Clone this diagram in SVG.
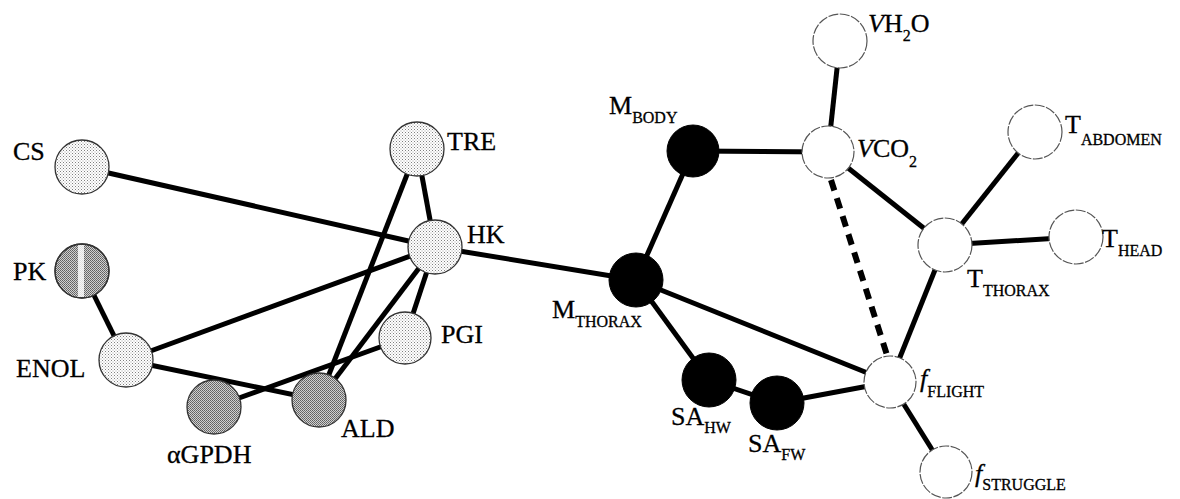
<svg xmlns="http://www.w3.org/2000/svg" width="1180" height="499" viewBox="0 0 1180 499">
<defs>
<pattern id="htL" width="3" height="3" patternUnits="userSpaceOnUse"><rect width="3" height="3" fill="#ffffff"/><rect width="1" height="1" fill="#808080"/><rect x="1.5" y="1.5" width="1" height="1" fill="#a0a0a0"/></pattern>
<pattern id="htD" width="2" height="2" patternUnits="userSpaceOnUse"><rect width="2" height="2" fill="#d0d0d0"/><rect width="1" height="1" fill="#606060"/><rect x="1" y="1" width="1" height="1" fill="#707070"/></pattern>
<style>
.e{stroke:#000;stroke-width:5;fill:none;stroke-linecap:butt}
.d{stroke:#000;stroke-width:6;fill:none;stroke-dasharray:11 8}
.lt{fill:url(#htL);stroke:#333;stroke-width:1.3}
.dk{fill:url(#htD);stroke:#333;stroke-width:1.3}
.bk{fill:#000;stroke:#000;stroke-width:1}
.wh{fill:#fff;stroke:#555;stroke-width:1.2;stroke-dasharray:10 1.5}
text{font-family:"Liberation Serif","Times New Roman",serif;font-size:26px;fill:#000;stroke:#000;stroke-width:0.3}
.s{font-size:16px}
.i{font-style:italic}
</style>
</defs>
<g id="connectors">
<line class="e" x1="82" y1="167" x2="435" y2="247"/>
<line class="e" x1="82" y1="271" x2="126" y2="360"/>
<line class="e" x1="126" y1="360" x2="435" y2="247"/>
<line class="e" x1="126" y1="360" x2="319" y2="400"/>
<line class="e" x1="214" y1="407" x2="405" y2="338"/>
<line class="e" x1="417" y1="149" x2="435" y2="247"/>
<line class="e" x1="417" y1="149" x2="319" y2="400"/>
<line class="e" x1="435" y1="247" x2="319" y2="400"/>
<line class="e" x1="435" y1="247" x2="405" y2="338"/>
<line class="e" x1="435" y1="247" x2="636" y2="280"/>
<line class="e" x1="636" y1="280" x2="693" y2="151"/>
<line class="e" x1="693" y1="151" x2="828" y2="152"/>
<line class="e" x1="636" y1="280" x2="709" y2="380"/>
<line class="e" x1="636" y1="280" x2="890" y2="382"/>
<line class="e" x1="709" y1="380" x2="777" y2="403"/>
<line class="e" x1="777" y1="403" x2="890" y2="382"/>
<line class="e" x1="840" y1="41" x2="828" y2="152"/>
<line class="e" x1="828" y1="152" x2="945" y2="245"/>
<line class="d" x1="831" y1="180" x2="887" y2="355"/>
<line class="e" x1="945" y1="245" x2="1035" y2="132"/>
<line class="e" x1="945" y1="245" x2="1076" y2="237"/>
<line class="e" x1="945" y1="245" x2="890" y2="382"/>
<line class="e" x1="890" y1="382" x2="946" y2="472"/>
</g>
<g id="CS"><circle class="lt" cx="82" cy="167" r="27"/><text x="13" y="160">CS</text></g>
<g id="PK"><circle class="dk" cx="82" cy="271" r="27"/><rect x="78" y="245" width="6" height="52" fill="#fff" opacity="0.8"/><circle cx="82" cy="271" r="27" fill="none" stroke="#333" stroke-width="1.3"/><text x="13" y="280">PK</text></g>
<g id="ENOL"><circle class="lt" cx="126" cy="360" r="27"/><text x="16" y="377">ENOL</text></g>
<g id="aGPDH"><circle class="dk" cx="214" cy="407" r="27"/><text x="167" y="463">αGPDH</text></g>
<g id="ALD"><circle class="dk" cx="319" cy="400" r="27"/><text x="341" y="437">ALD</text></g>
<g id="PGI"><circle class="lt" cx="405" cy="338" r="26"/><text x="441" y="343">PGI</text></g>
<g id="TRE"><circle class="lt" cx="417" cy="149" r="27"/><text x="447" y="150">TRE</text></g>
<g id="HK"><circle class="lt" cx="435" cy="247" r="27"/><text x="467" y="243">HK</text></g>
<g id="M_BODY"><circle class="bk" cx="693" cy="151" r="26"/><text x="609" y="114">M<tspan class="s" dy="9">BODY</tspan></text></g>
<g id="M_THORAX"><circle class="bk" cx="636" cy="280" r="27"/><text x="552" y="318">M<tspan class="s" dy="9">THORAX</tspan></text></g>
<g id="SA_HW"><circle class="bk" cx="709" cy="380" r="27"/><text x="671" y="425">SA<tspan class="s" dy="8">HW</tspan></text></g>
<g id="SA_FW"><circle class="bk" cx="777" cy="403" r="27"/><text x="748" y="452">SA<tspan class="s" dy="8">FW</tspan></text></g>
<g id="VH2O"><circle class="wh" cx="840" cy="41" r="27"/><text x="868" y="32"><tspan class="i">V</tspan>H<tspan class="s" dy="9">2</tspan><tspan dy="-9">O</tspan></text></g>
<g id="VCO2"><circle class="wh" cx="828" cy="152" r="26"/><text x="857" y="157"><tspan class="i">V</tspan>CO<tspan class="s" dy="10">2</tspan></text></g>
<g id="T_ABDOMEN"><circle class="wh" cx="1035" cy="132" r="27"/><text x="1065" y="133">T<tspan class="s" dy="12">ABDOMEN</tspan></text></g>
<g id="T_HEAD"><circle class="wh" cx="1076" cy="237" r="27"/><text x="1102" y="247">T<tspan class="s" dy="9">HEAD</tspan></text></g>
<g id="T_THORAX"><circle class="wh" cx="945" cy="245" r="27"/><text x="967" y="287">T<tspan class="s" dy="9">THORAX</tspan></text></g>
<g id="f_FLIGHT"><circle class="wh" cx="890" cy="382" r="26"/><text x="920" y="387"><tspan class="i">f</tspan><tspan class="s" dy="10">FLIGHT</tspan></text></g>
<g id="f_STRUGGLE"><circle class="wh" cx="946" cy="472" r="26"/><text x="975" y="482"><tspan class="i">f</tspan><tspan class="s" dy="8">STRUGGLE</tspan></text></g>
</svg>
